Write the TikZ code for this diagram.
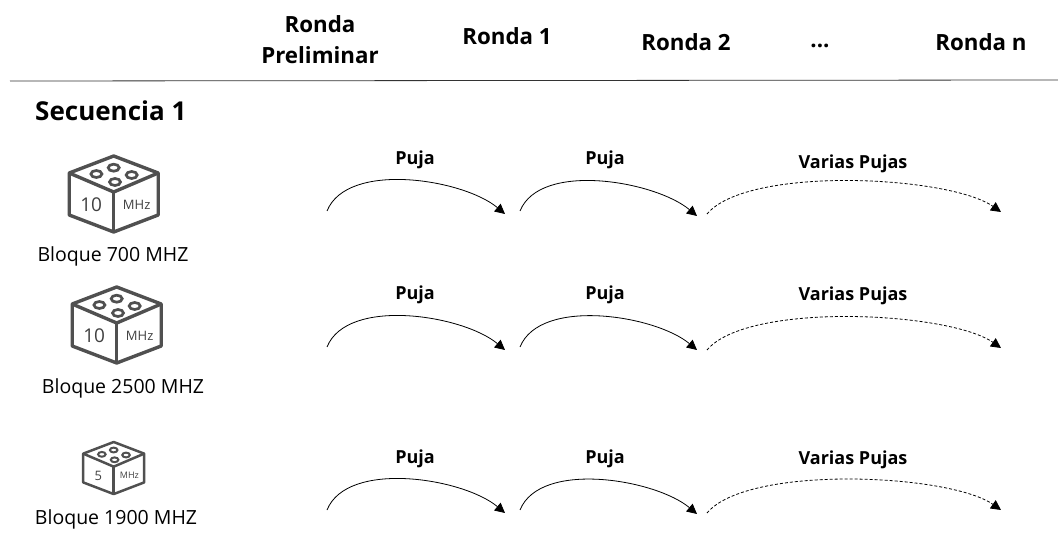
\documentclass[tikz,border=0pt]{standalone}
\usepackage{fontspec}
\setmainfont{Open Sans}
\usetikzlibrary{arrows.meta}
\definecolor{cubegray}{HTML}{505050}
\tikzset{
  headtext/.style={font=\fontsize{22.3}{31}\selectfont\bfseries, align=center, black},
  bidtext/.style={font=\fontsize{18}{22}\selectfont\bfseries, black},
  blocktext/.style={font=\fontsize{19.5}{24}\selectfont, black},
  bidarc/.style={line width=0.8, -{Triangle[length=10,width=10]}},
  multiarc/.style={bidarc, densely dashed},
  pics/cubeblock/.style n args={4}{code={
    \draw[cubegray, line width=#4, line join=round]
      (0,0)--(44.5,17)--(44.5,59)--(0,76)--(-44.5,59)--(-44.5,17)--cycle;
    \draw[cubegray, line width=#4, line join=round] (-44.5,17)--(0,36)--(44.5,17);
    \draw[cubegray, line width=#4] (0,36)--(0,76);
    \draw[cubegray, line width=0.8*#4] (0,11.7) ellipse (5.5 and 3.5);
    \draw[cubegray, line width=0.8*#4] (-17.3,18) ellipse (5.5 and 3.5);
    \draw[cubegray, line width=0.8*#4] (18,19) ellipse (5.5 and 3.5);
    \draw[cubegray, line width=0.8*#4] (1.3,26) ellipse (5.5 and 3.5);
    \node[cubegray!80!black, font=\fontsize{#2}{#2}\selectfont] (-num) at (-22.5,49) {#1};
    \node[cubegray!80!black, font=\fontsize{#3}{#3}\selectfont] (-unit) at (23,49) {MHz};
  }}
}
\begin{document}
\begin{tikzpicture}[x=1pt, y=-1pt]
\useasboundingbox (0,0) rectangle (1058,540);
% header
\node[headtext] (ronda0) at (320,40) {Ronda\\Preliminar};
\node[headtext] (ronda1) at (507,36) {Ronda 1};
\node[headtext] (ronda2) at (686,42) {Ronda 2};
\node[headtext] (rondadots) at (820,46) {...};
\node[headtext] (rondan) at (981,42) {Ronda n};
\coordinate (ruleleft) at (10,81);
\coordinate (ruleright) at (1058,80);
\draw[line width=0.8, black!80] (ruleleft) -- (ruleright);
\node[anchor=west, inner sep=0, font=\fontsize{26}{30}\selectfont\bfseries] (seq) at (35,111) {Secuencia 1};
% blocks
\pic (cubea) at (113.7,156) {cubeblock={10}{19}{13}{3.4}};
\node[blocktext] (blocka) at (113,256) {Bloque 700 MHZ};
\pic (cubeb) at (116.7,287) {cubeblock={10}{19}{13}{3.4}};
\node[blocktext] (blockb) at (123,388) {Bloque 2500 MHZ};
\pic[scale=0.685] (cubec) at (113.7,442) {cubeblock={5}{13}{9}{2.5}};
\node[blocktext] (blockc) at (116,519) {Bloque 1900 MHZ};
% bids, one row at a time
\foreach \rowname/\ya/\yb/\yc/\yd/\ytxt/\yvar in {a/211/214/216/212/160/164, b/347/350/350/348/295/296, c/510/513/514/510/459/460}{
  \coordinate (s1\rowname) at (327,\ya);
  \coordinate (e1\rowname) at (505,\yb);
  \coordinate (s2\rowname) at (520,\ya);
  \coordinate (e2\rowname) at (697,\yc);
  \coordinate (s3\rowname) at (707,\yb);
  \coordinate (e3\rowname) at (1001,\yd);
  \draw[bidarc] (s1\rowname) to[out=68,in=140,looseness=0.78] (e1\rowname);
  \draw[bidarc] (s2\rowname) to[out=68,in=140,looseness=0.78] (e2\rowname);
  \draw[multiarc] (s3\rowname) to[out=50,in=145,looseness=0.55] (e3\rowname);
  \node[bidtext] (bid1\rowname) at (415,\ytxt) {Puja};
  \node[bidtext] (bid2\rowname) at (605,\ytxt) {Puja};
  \node[bidtext] (bid3\rowname) at (853,\yvar) {Varias Pujas};
}
\end{tikzpicture}
\end{document}
